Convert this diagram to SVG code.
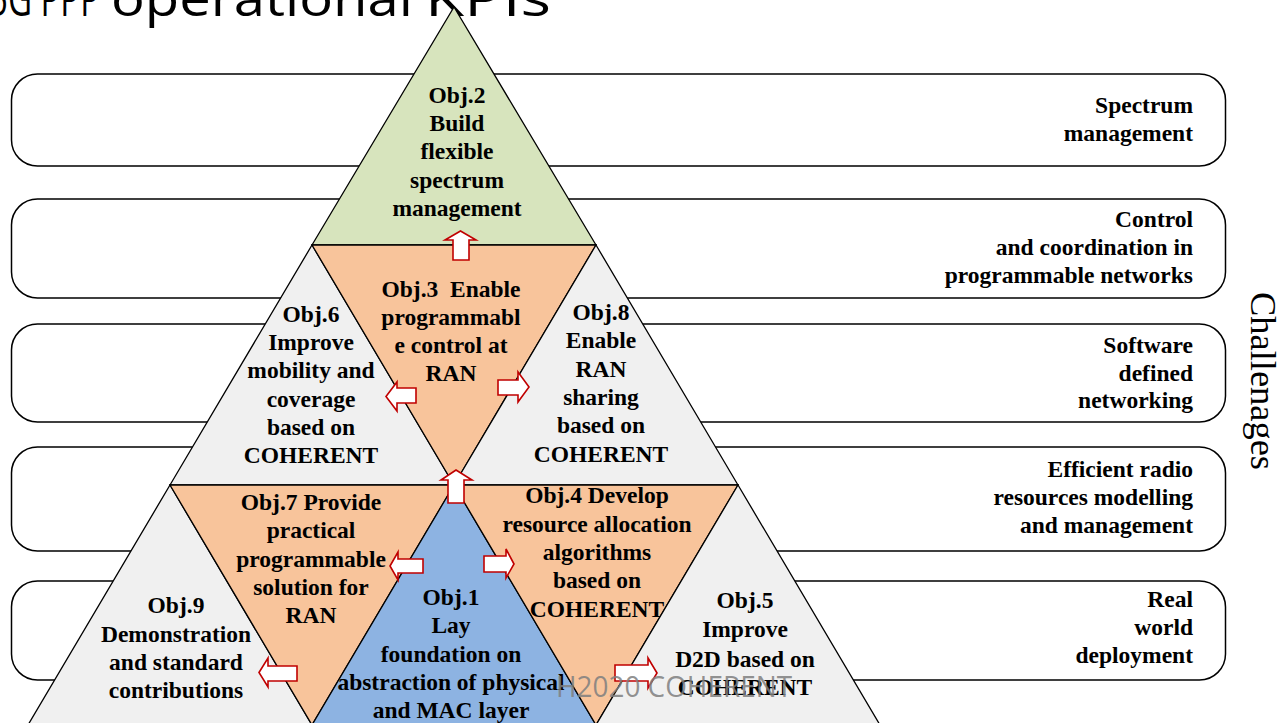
<svg xmlns="http://www.w3.org/2000/svg" width="1278" height="723" viewBox="0 0 1278 723">
<style>
.box{fill:#ffffff;stroke:#000;stroke-width:1.5}
.tri{stroke:#000;stroke-width:1.3;stroke-linejoin:miter}
.g{fill:#f0f0f0}.gr{fill:#d7e4bd}.or{fill:#f8c49b}.bl{fill:#8db3e2}
.t{font-family:"Liberation Serif","Times New Roman",serif;font-weight:bold;font-size:23.5px;fill:#000;text-anchor:middle}
.r{font-family:"Liberation Serif","Times New Roman",serif;font-weight:bold;font-size:23.5px;fill:#000;text-anchor:end}
.arr{fill:#fff;stroke:#c00000;stroke-width:1.6;stroke-linejoin:miter}
.ttl{font-family:"Open Sans","Liberation Sans",sans-serif;fill:#000;font-size:50px}
</style>
<rect width="1278" height="723" fill="#fff"/>
<g id="title"><text class="ttl" transform="translate(0,16) scale(0.66,1)" x="151.5" y="0" text-anchor="end">5G PPP</text><text class="ttl" x="111" y="16" textLength="302" lengthAdjust="spacingAndGlyphs">operational</text><text class="ttl" x="425" y="16" textLength="126" lengthAdjust="spacingAndGlyphs">KPIs</text></g>
<g id="challenge-boxes">
<g id="box-spectrum"><rect class="box" x="11.5" y="74" width="1214" height="92" rx="26"/><text class="r" x="1193" y="113">Spectrum</text><text class="r" x="1193" y="141">management</text></g>
<g id="box-control"><rect class="box" x="11.5" y="199" width="1214" height="99" rx="26"/><text class="r" x="1193" y="227">Control</text><text class="r" x="1193" y="255">and coordination in</text><text class="r" x="1193" y="283">programmable networks</text></g>
<g id="box-sdn"><rect class="box" x="11.5" y="324" width="1214" height="98" rx="26"/><text class="r" x="1193" y="353">Software</text><text class="r" x="1193" y="381">defined</text><text class="r" x="1193" y="408">networking</text></g>
<g id="box-radio"><rect class="box" x="11.5" y="447" width="1214" height="104" rx="26"/><text class="r" x="1193" y="477">Efficient radio</text><text class="r" x="1193" y="505">resources modelling</text><text class="r" x="1193" y="533">and management</text></g>
<g id="box-deploy"><rect class="box" x="11.5" y="581" width="1214" height="99" rx="26"/><text class="r" x="1193" y="607">Real</text><text class="r" x="1193" y="635">world</text><text class="r" x="1193" y="663">deployment</text></g>
</g>
<text id="challenges" transform="translate(1251,292) rotate(90)" font-family="'Liberation Serif','Times New Roman',serif" font-size="36" fill="#000" textLength="178" lengthAdjust="spacingAndGlyphs">Challenages</text>
<g id="obj2"><polygon class="tri gr" points="454,7 596,245 312,245"/>
<text class="t" x="457" y="103">Obj.2</text><text class="t" x="457" y="131">Build</text><text class="t" x="457" y="159">flexible</text><text class="t" x="457" y="188">spectrum</text><text class="t" x="457" y="216">management</text></g>
<g id="obj6"><polygon class="tri g" points="312,245 454,485 170,485"/>
<text class="t" x="311" y="322">Obj.6</text><text class="t" x="311" y="350">Improve</text><text class="t" x="311" y="378">mobility and</text><text class="t" x="311" y="407">coverage</text><text class="t" x="311" y="435">based on</text><text class="t" x="311" y="463">COHERENT</text></g>
<g id="obj3"><polygon class="tri or" points="312,245 596,245 454,485"/>
<text class="t" x="451" y="297" xml:space="preserve">Obj.3  Enable</text><text class="t" x="451" y="325">programmabl</text><text class="t" x="451" y="353">e control at</text><text class="t" x="451" y="381">RAN</text></g>
<g id="obj8"><polygon class="tri g" points="596,245 738,485 454,485"/>
<text class="t" x="601" y="320">Obj.8</text><text class="t" x="601" y="348">Enable</text><text class="t" x="601" y="377">RAN</text><text class="t" x="601" y="405">sharing</text><text class="t" x="601" y="433">based on</text><text class="t" x="601" y="462">COHERENT</text></g>
<g id="obj9"><polygon class="tri g" points="170,485 312,725 28,725"/>
<text class="t" x="176" y="613">Obj.9</text><text class="t" x="176" y="642">Demonstration</text><text class="t" x="176" y="670">and standard</text><text class="t" x="176" y="698">contributions</text></g>
<g id="obj7"><polygon class="tri or" points="170,485 454,485 312,725"/>
<text class="t" x="311" y="510">Obj.7 Provide</text><text class="t" x="311" y="538">practical</text><text class="t" x="311" y="567">programmable</text><text class="t" x="311" y="595">solution for</text><text class="t" x="311" y="623">RAN</text></g>
<g id="obj1"><polygon class="tri bl" points="454,485 596,725 312,725"/>
<text class="t" x="451" y="605">Obj.1</text><text class="t" x="451" y="633">Lay</text><text class="t" x="451" y="662">foundation on</text><text class="t" x="451" y="690">abstraction of physical</text><text class="t" x="451" y="718">and MAC layer</text></g>
<g id="obj4"><polygon class="tri or" points="454,485 738,485 596,725"/>
<text class="t" x="597" y="503">Obj.4 Develop</text><text class="t" x="597" y="532">resource allocation</text><text class="t" x="597" y="560">algorithms</text><text class="t" x="597" y="588">based on</text><text class="t" x="597" y="617">COHERENT</text></g>
<g id="obj5"><polygon class="tri g" points="738,485 880,725 596,725"/>
<text class="t" x="745" y="608">Obj.5</text><text class="t" x="745" y="637">Improve</text><text class="t" x="745" y="667">D2D based on</text><text class="t" x="745" y="695">COHERENT</text></g>
<g id="connectors">
<path class="arr" d="M460.5,231 L476,240 L469,240 L469,260 L453,260 L453,240 L445,240 Z"/>
<path class="arr" d="M456,470 L472,480 L464,480 L464,503 L448,503 L448,480 L441,480 Z"/>
<path class="arr" d="M386,396.5 L397,382 L397,388 L416,388 L416,403 L397,403 L397,411 Z"/>
<path class="arr" d="M529,387 L518,372 L518,380 L498,380 L498,395 L518,395 L518,402 Z"/>
<path class="arr" d="M390,566 L398,552 L398,559 L423,559 L423,573 L398,573 L398,580 Z"/>
<path class="arr" d="M514,564 L506,549 L506,556 L484,556 L484,572 L506,572 L506,578 Z"/>
<path class="arr" d="M259,672.5 L268,658 L268,666 L297,666 L297,681 L268,681 L268,687 Z"/>
<path class="arr" d="M657,673 L648,658 L648,665 L615,665 L615,681 L648,681 L648,688 Z"/>
</g>
<text id="watermark" x="556" y="697" font-family="'Open Sans','Liberation Sans',sans-serif" font-size="30" textLength="236" lengthAdjust="spacingAndGlyphs" fill="#7f7f7f" fill-opacity="0.85">H2020 COHERENT</text>
</svg>
